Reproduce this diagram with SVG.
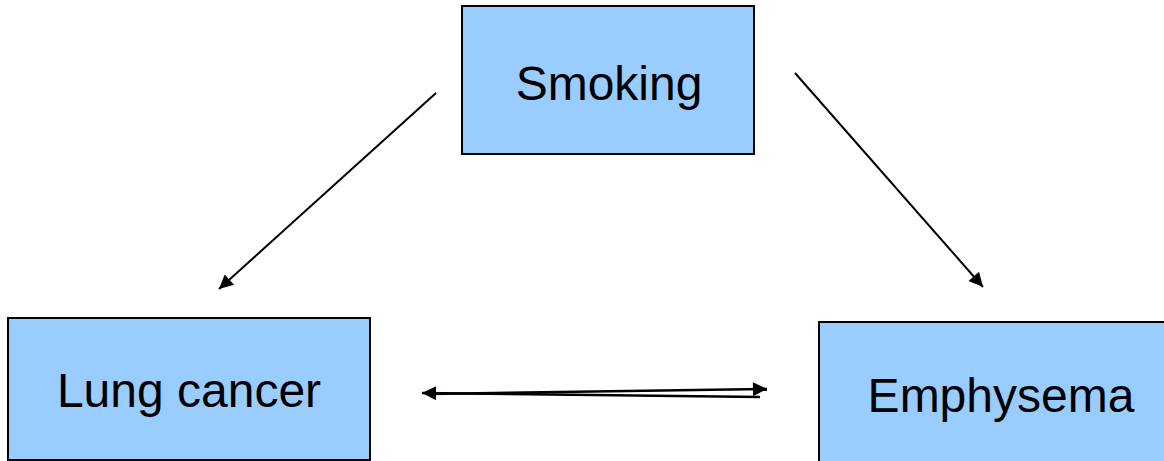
<svg xmlns="http://www.w3.org/2000/svg" width="1164" height="461" viewBox="0 0 1164 461">
  <style>
    .box { fill: #99ccff; stroke: #000; stroke-width: 2; }
    .label { font-family: "Liberation Sans", Arial, sans-serif; font-size: 48px; fill: #000; text-anchor: middle; }
    .edge { stroke: #000; stroke-width: 2; fill: none; marker-end: url(#head); }
    .thick { stroke-width: 2.5; }
  </style>
  <defs>
    <marker id="head" viewBox="0 0 10 10" refX="10" refY="5" markerUnits="userSpaceOnUse" markerWidth="17" markerHeight="14" orient="auto">
      <path d="M0,0 L10,5 L0,10 Z" fill="#000"/>
    </marker>
  </defs>
  <rect width="1164" height="461" fill="#fff"/>
  <g id="connectors">
    <line class="edge" x1="436" y1="93" x2="219" y2="289"/>
    <line class="edge" x1="795" y1="73" x2="983" y2="287"/>
    <line class="edge thick" x1="760" y1="397" x2="422" y2="393"/>
    <line class="edge thick" x1="430" y1="394" x2="767" y2="389"/>
  </g>
  <g id="smoking">
    <rect class="box" x="462" y="6" width="292" height="148"/>
    <text class="label" x="609" y="100">Smoking</text>
  </g>
  <g id="lung-cancer">
    <rect class="box" x="8" y="318" width="362" height="142"/>
    <text class="label" x="189" y="407">Lung cancer</text>
  </g>
  <g id="emphysema">
    <rect class="box" x="819" y="322" width="350" height="145"/>
    <text class="label" x="1001" y="412">Emphysema</text>
  </g>
</svg>
